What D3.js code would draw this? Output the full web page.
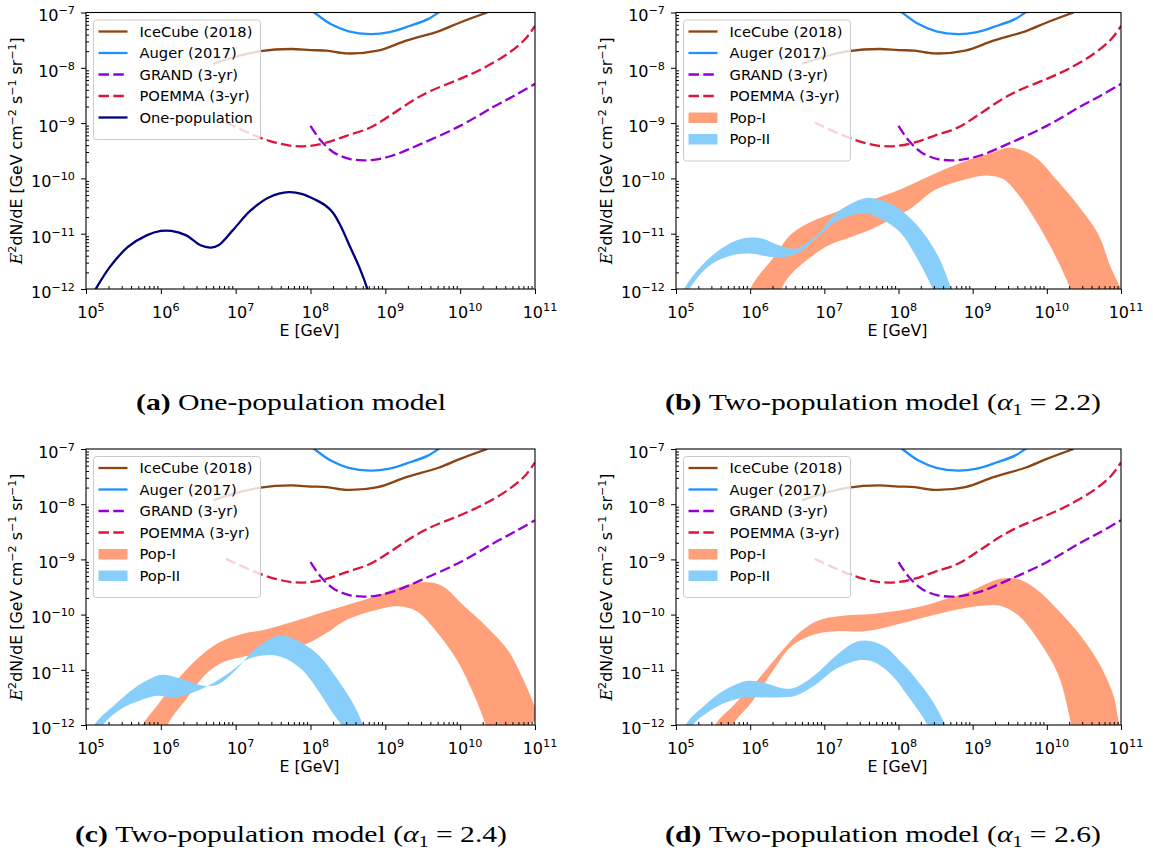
<!DOCTYPE html>
<html>
<head>
<meta charset="utf-8">
<script src="https://cdn.jsdelivr.net/npm/d3@7"></script>
<style>
  body { margin: 0; background: #fff; }
  svg { display: block; }
  .tick text { font-family: "DejaVu Sans", sans-serif; }
</style>
</head>
<body>
<svg id="fig" width="1153" height="857"></svg>
<script>
// all values are log10 numbers
var decades = [5, 6, 7, 8, 9, 10, 11];
var yDecades = [-12, -11, -10, -9, -8, -7];

// experiments (same in every panel)
var iceLogE = [6.70, 7.0, 7.33, 7.74, 8.0, 8.22, 8.48, 8.9, 9.28, 9.71, 10.0, 10.36];
var iceLogF = [-7.93, -7.80, -7.70, -7.66, -7.68, -7.69, -7.74, -7.69, -7.51, -7.34, -7.18, -7.0];

var augerLogE = [8.0, 8.05, 8.27, 8.51, 8.80, 9.04, 9.33, 9.57, 9.71, 9.8];
var augerLogF = [-6.95, -7.0, -7.21, -7.34, -7.39, -7.36, -7.24, -7.12, -7.0, -6.93];

var grandLogE = [8.0, 8.14, 8.31, 8.53, 8.80, 9.09, 9.47, 10.0, 10.44, 10.73, 11.0];
var grandLogF = [-9.05, -9.32, -9.53, -9.65, -9.67, -9.59, -9.38, -9.05, -8.71, -8.50, -8.29];

var poemmaLogE = [6.87, 7.16, 7.45, 7.74, 8.0, 8.22, 8.48, 8.80, 9.09, 9.37, 9.62, 10.0, 10.29, 10.63, 10.87, 11.0];
var poemmaLogF = [-8.99, -9.17, -9.32, -9.41, -9.41, -9.35, -9.23, -9.08, -8.84, -8.59, -8.41, -8.20, -8.02, -7.75, -7.48, -7.24];

// (a) one-population model
var oneLogE = [5.05, 5.13, 5.32, 5.56, 5.81, 6.0, 6.14, 6.34, 6.53, 6.67, 6.77, 6.96, 7.20, 7.45, 7.71, 7.88, 8.07, 8.2, 8.3, 8.4, 8.53, 8.65, 8.76, 8.8];
var oneLogF = [-12.2, -12.0, -11.60, -11.24, -11.03, -10.95, -10.95, -11.03, -11.21, -11.25, -11.21, -10.94, -10.58, -10.34, -10.25, -10.28, -10.39, -10.49, -10.62, -10.85, -11.24, -11.60, -12.0, -12.2];

// Pop-I / Pop-II bands, upper and lower edges, panels b, c, d
var popIHiE = {
  b: [5.9, 6.0, 6.32, 6.56, 6.86, 7.15, 7.45, 7.74, 8.04, 8.33, 8.63, 8.92, 9.21, 9.46, 9.61, 9.85, 10.14, 10.44, 10.69, 10.86, 11.0, 11.05],
  c: [5.7, 5.76, 5.95, 6.19, 6.48, 6.77, 7.06, 7.40, 7.74, 8.02, 8.31, 8.60, 8.89, 9.18, 9.52, 9.76, 10.05, 10.34, 10.63, 10.82, 11.0, 11.05],
  d: [5.45, 5.53, 5.77, 6.07, 6.37, 6.66, 6.91, 7.25, 7.64, 7.99, 8.34, 8.63, 8.93, 9.17, 9.37, 9.62, 9.86, 10.16, 10.46, 10.70, 10.90, 10.95, 11.0]
};
var popIHiF = {
  b: [-12.6, -12.0, -11.42, -11.0, -10.76, -10.61, -10.46, -10.34, -10.19, -10.01, -9.83, -9.68, -9.56, -9.45, -9.47, -9.62, -10.04, -10.52, -11.0, -11.60, -12.0, -12.2],
  c: [-12.4, -12.0, -11.65, -11.23, -10.81, -10.51, -10.36, -10.27, -10.14, -10.02, -9.90, -9.78, -9.66, -9.51, -9.41, -9.48, -9.84, -10.20, -10.63, -11.11, -11.68, -11.9],
  d: [-12.5, -12.0, -11.65, -11.23, -10.75, -10.33, -10.11, -10.02, -9.99, -9.93, -9.84, -9.72, -9.60, -9.45, -9.35, -9.36, -9.54, -9.93, -10.39, -10.87, -11.47, -11.8, -12.2]
};
var popILoE = {
  b: [6.35, 6.42, 6.56, 6.76, 7.06, 7.36, 7.65, 7.95, 8.19, 8.44, 8.63, 8.92, 9.21, 9.41, 9.61, 9.85, 10.10, 10.32, 10.4],
  c: [6.0, 6.09, 6.34, 6.58, 6.82, 7.16, 7.45, 7.74, 7.98, 8.22, 8.41, 8.60, 8.89, 9.18, 9.42, 9.66, 9.95, 10.19, 10.34, 10.4],
  d: [5.7, 5.77, 6.02, 6.32, 6.56, 6.86, 7.15, 7.55, 7.89, 8.24, 8.53, 8.83, 9.12, 9.37, 9.62, 9.91, 10.16, 10.33, 10.4]
};
var popILoF = {
  b: [-12.4, -12.0, -11.72, -11.48, -11.21, -11.06, -10.91, -10.70, -10.52, -10.25, -10.13, -10.01, -9.95, -10.01, -10.28, -10.76, -11.36, -12.0, -12.3],
  c: [-12.5, -12.0, -11.53, -11.11, -10.87, -10.75, -10.69, -10.63, -10.51, -10.33, -10.15, -10.03, -9.91, -9.85, -9.94, -10.27, -10.81, -11.47, -12.0, -12.3],
  d: [-12.5, -12.0, -11.59, -10.99, -10.57, -10.36, -10.30, -10.30, -10.21, -10.09, -9.99, -9.90, -9.84, -9.84, -10.02, -10.51, -11.11, -12.0, -12.4]
};
var popIIHiE = {
  b: [5.0, 5.11, 5.33, 5.58, 5.82, 6.0, 6.17, 6.39, 6.61, 6.92, 7.15, 7.40, 7.59, 7.84, 8.04, 8.31, 8.54, 8.71, 8.8],
  c: [5.0, 5.11, 5.37, 5.66, 5.95, 6.05, 6.29, 6.58, 6.77, 7.01, 7.25, 7.54, 7.64, 7.88, 8.12, 8.36, 8.56, 8.70, 8.8],
  d: [5.0, 5.13, 5.38, 5.68, 5.97, 6.17, 6.46, 6.61, 6.86, 7.15, 7.40, 7.55, 7.80, 8.04, 8.24, 8.44, 8.63, 8.7]
};
var popIIHiF = {
  b: [-12.5, -12.0, -11.60, -11.30, -11.12, -11.07, -11.09, -11.21, -11.27, -11.0, -10.64, -10.43, -10.35, -10.43, -10.58, -10.94, -11.42, -12.0, -12.4],
  c: [-12.5, -12.0, -11.65, -11.32, -11.11, -11.09, -11.17, -11.29, -11.26, -10.99, -10.63, -10.39, -10.38, -10.51, -10.75, -11.17, -11.59, -12.0, -12.5],
  d: [-12.6, -12.0, -11.65, -11.35, -11.20, -11.23, -11.34, -11.32, -11.11, -10.75, -10.51, -10.47, -10.57, -10.87, -11.17, -11.53, -12.0, -12.3]
};
var popIILoE = {
  b: [5.05, 5.18, 5.43, 5.68, 5.98, 6.27, 6.47, 6.67, 6.96, 7.15, 7.45, 7.59, 7.84, 8.04, 8.24, 8.46, 8.55],
  c: [5.1, 5.23, 5.47, 5.71, 5.95, 6.19, 6.43, 6.67, 6.92, 7.16, 7.45, 7.64, 7.88, 8.12, 8.29, 8.41, 8.5],
  d: [5.1, 5.23, 5.43, 5.68, 5.92, 6.17, 6.41, 6.61, 6.86, 7.15, 7.45, 7.65, 7.89, 8.14, 8.39, 8.45]
};
var popIILoF = {
  b: [-12.4, -12.0, -11.60, -11.42, -11.36, -11.42, -11.42, -11.33, -11.0, -10.79, -10.64, -10.64, -10.79, -11.0, -11.42, -12.0, -12.4],
  c: [-12.5, -12.0, -11.71, -11.56, -11.47, -11.50, -11.41, -11.26, -11.05, -10.81, -10.73, -10.78, -10.99, -11.41, -11.77, -12.0, -12.4],
  d: [-12.5, -12.0, -11.77, -11.59, -11.50, -11.50, -11.50, -11.47, -11.29, -10.99, -10.83, -10.85, -11.07, -11.50, -12.0, -12.3]
};

var captions = [
  {tag: "(a)", text: "One-population model", alpha: null},
  {tag: "(b)", text: "Two-population model (", alpha: "2.2"},
  {tag: "(c)", text: "Two-population model (", alpha: "2.4"},
  {tag: "(d)", text: "Two-population model (", alpha: "2.6"}
];

var experiments = [
  {label: "IceCube (2018)", e: iceLogE, f: iceLogF, color: "#8b4513", dash: null},
  {label: "Auger (2017)", e: augerLogE, f: augerLogF, color: "#1e90ff", dash: null},
  {label: "GRAND (3-yr)", e: grandLogE, f: grandLogF, color: "#9400d3", dash: "10.5,4.3"},
  {label: "POEMMA (3-yr)", e: poemmaLogE, f: poemmaLogF, color: "#dc143c", dash: "10.5,4.3"}
];

var panels = [
  {key: "a", x0: 86, x1: 535, y0: 12.5, y1: 289, capX: 291, capY: 410, capW: 310},
  {key: "b", x0: 676, x1: 1121, y0: 12.5, y1: 289, capX: 883, capY: 410, capW: 436},
  {key: "c", x0: 86, x1: 535, y0: 449, y1: 725, capX: 291, capY: 842, capW: 432},
  {key: "d", x0: 676, x1: 1121, y0: 449, y1: 725, capX: 883, capY: 842, capW: 436}
];

var pop1Color = "#ffa07a", pop2Color = "#87cefa";
var svg = d3.select("#fig");
var pow = function (v) { return Math.pow(10, v); };
var minus = "\u2212";
var tickFont = 16, labelFont = 15.8, legendFont = 14.7, lw = 2.3;

function supLabel(sel, base, exp) {
  sel.text(null);
  sel.append("tspan").text(base);
  sel.append("tspan").attr("font-size", (tickFont * 0.7) + "px").attr("dy", "-7").text(exp);
}

panels.forEach(function (p, i) {
  var x = d3.scaleLog().domain([1e5, 1e11]).range([p.x0, p.x1]);
  var y = d3.scaleLog().domain([1e-12, 1e-7]).range([p.y1, p.y0]);
  var g = svg.append("g");

  g.append("clipPath").attr("id", "clip" + i)
    .append("rect").attr("x", p.x0).attr("y", p.y0)
    .attr("width", p.x1 - p.x0).attr("height", p.y1 - p.y0);
  var plot = g.append("g").attr("clip-path", "url(#clip" + i + ")");

  var line = d3.line()
    .x(function (d) { return x(pow(d[0])); })
    .y(function (d) { return y(pow(d[1])); })
    .curve(d3.curveCatmullRom.alpha(0.5));

  function band(hiE, hiF, loE, loF, color) {
    var top = line(d3.zip(hiE, hiF));
    var bot = line(d3.zip(loE, loF).reverse());
    plot.append("path").attr("d", top + "L" + bot.slice(1) + "Z")
      .attr("fill", color).attr("stroke", "none");
  }

  if (p.key !== "a") {
    band(popIHiE[p.key], popIHiF[p.key], popILoE[p.key], popILoF[p.key], pop1Color);
    band(popIIHiE[p.key], popIIHiF[p.key], popIILoE[p.key], popIILoF[p.key], pop2Color);
  }

  experiments.forEach(function (ex) {
    plot.append("path").attr("d", line(d3.zip(ex.e, ex.f)))
      .attr("fill", "none").attr("stroke", ex.color).attr("stroke-width", lw)
      .attr("stroke-dasharray", ex.dash);
  });

  if (p.key === "a") {
    plot.append("path").attr("d", line(d3.zip(oneLogE, oneLogF)))
      .attr("fill", "none").attr("stroke", "#000080").attr("stroke-width", lw);
  }

  // axes: major ticks outward, minor ticks inward
  var minorX = [], minorY = [];
  decades.slice(0, -1).forEach(function (d) {
    for (var k = 2; k < 10; k++) minorX.push(k * pow(d));
  });
  yDecades.slice(0, -1).forEach(function (d) {
    for (var k = 2; k < 10; k++) minorY.push(k * pow(d));
  });

  var xAxis = g.append("g").attr("transform", "translate(0," + p.y1 + ")")
    .call(d3.axisBottom(x).tickValues(decades.map(pow)).tickSizeInner(5).tickSizeOuter(0).tickPadding(7));
  xAxis.select(".domain").remove();
  xAxis.selectAll(".tick text").attr("font-size", tickFont + "px").attr("fill", "#000")
    .each(function (d, j) { supLabel(d3.select(this), "10", String(decades[j])); });
  xAxis.selectAll(".tick text").attr("dy", "1.08em").attr("dx", "0.28em");
  g.append("g").attr("transform", "translate(0," + p.y1 + ")")
    .call(d3.axisBottom(x).tickValues(minorX).tickSize(-3).tickFormat(""))
    .select(".domain").remove();

  var yAxis = g.append("g").attr("transform", "translate(" + p.x0 + ",0)")
    .call(d3.axisLeft(y).tickValues(yDecades.map(pow)).tickSizeInner(5).tickSizeOuter(0).tickPadding(6));
  yAxis.select(".domain").remove();
  yAxis.selectAll(".tick text").attr("font-size", tickFont + "px").attr("fill", "#000")
    .each(function (d, j) { supLabel(d3.select(this), "10", minus + String(-yDecades[j])); })
    .attr("dy", "0.52em");
  g.append("g").attr("transform", "translate(" + p.x0 + ",0)")
    .call(d3.axisLeft(y).tickValues(minorY).tickSize(-3).tickFormat(""))
    .select(".domain").remove();
  g.selectAll(".tick line").attr("stroke", "#000").attr("stroke-width", 1);

  g.append("rect").attr("x", p.x0).attr("y", p.y0)
    .attr("width", p.x1 - p.x0).attr("height", p.y1 - p.y0)
    .attr("fill", "none").attr("stroke", "#000").attr("stroke-width", 1.1);

  // axis labels
  g.append("text").attr("x", (p.x0 + p.x1) / 2 - 1).attr("y", p.y1 + 47)
    .attr("text-anchor", "middle").attr("font-family", "DejaVu Sans")
    .attr("font-size", labelFont + "px").text("E [GeV]");

  var yl = g.append("text")
    .attr("transform", "translate(" + (p.x0 - 64) + "," + ((p.y0 + p.y1) / 2) + ") rotate(-90)")
    .attr("text-anchor", "middle").attr("font-family", "DejaVu Sans").attr("font-size", labelFont + "px");
  var sup = (labelFont * 0.7) + "px";
  yl.append("tspan").attr("font-style", "italic").attr("font-family", "DejaVu Serif").text("E");
  yl.append("tspan").attr("font-size", sup).attr("dy", -6.5).text("2");
  yl.append("tspan").attr("dy", 6.5).text("dN/dE [GeV cm");
  yl.append("tspan").attr("font-size", sup).attr("dy", -6.5).text(minus + "2");
  yl.append("tspan").attr("dy", 6.5).text(" s");
  yl.append("tspan").attr("font-size", sup).attr("dy", -6.5).text(minus + "1");
  yl.append("tspan").attr("dy", 6.5).text(" sr");
  yl.append("tspan").attr("font-size", sup).attr("dy", -6.5).text(minus + "1");
  yl.append("tspan").attr("dy", 6.5).text("]");

  // legend
  var items = experiments.map(function (ex) {
    return {label: ex.label, color: ex.color, dash: ex.dash, patch: false};
  });
  if (p.key === "a") {
    items.push({label: "One-population", color: "#000080", dash: null, patch: false});
  } else {
    items.push({label: "Pop-I", color: pop1Color, patch: true});
    items.push({label: "Pop-II", color: pop2Color, patch: true});
  }
  var lx = p.x0 + 7.5, ly = p.y0 + 7.5, rowH = 21.5;
  var leg = g.append("g");
  leg.append("rect").attr("x", lx).attr("y", ly).attr("rx", 3).attr("ry", 3)
    .attr("width", 167).attr("height", 10 + rowH * items.length + 2)
    .attr("fill", "#fff").attr("fill-opacity", 0.8)
    .attr("stroke", "#cccccc").attr("stroke-width", 1);
  items.forEach(function (it, j) {
    var cy = ly + 11.5 + rowH * j;
    if (it.patch) {
      leg.append("rect").attr("x", lx + 5).attr("y", cy - 5).attr("width", 29).attr("height", 10.5)
        .attr("fill", it.color);
    } else {
      leg.append("line").attr("x1", lx + 5).attr("x2", lx + 34).attr("y1", cy).attr("y2", cy)
        .attr("stroke", it.color).attr("stroke-width", lw).attr("stroke-dasharray", it.dash);
    }
    leg.append("text").attr("x", lx + 46).attr("y", cy + 5)
      .attr("font-family", "DejaVu Sans").attr("font-size", legendFont + "px").text(it.label);
  });

  // caption
  var c = captions[i];
  var cap = svg.append("text").attr("x", p.capX).attr("y", p.capY)
    .attr("text-anchor", "middle").attr("font-family", "Liberation Serif").attr("font-size", "24px")
    .attr("textLength", p.capW).attr("lengthAdjust", "spacingAndGlyphs");
  cap.append("tspan").attr("font-weight", "bold").text(c.tag + " ");
  cap.append("tspan").text(c.text);
  if (c.alpha) {
    cap.append("tspan").attr("font-style", "italic").text("\u03b1");
    cap.append("tspan").attr("font-size", "16px").attr("dy", 5).text("1");
    cap.append("tspan").attr("dy", -5).text(" = " + c.alpha + ")");
  }
});
</script>
</body>
</html>
